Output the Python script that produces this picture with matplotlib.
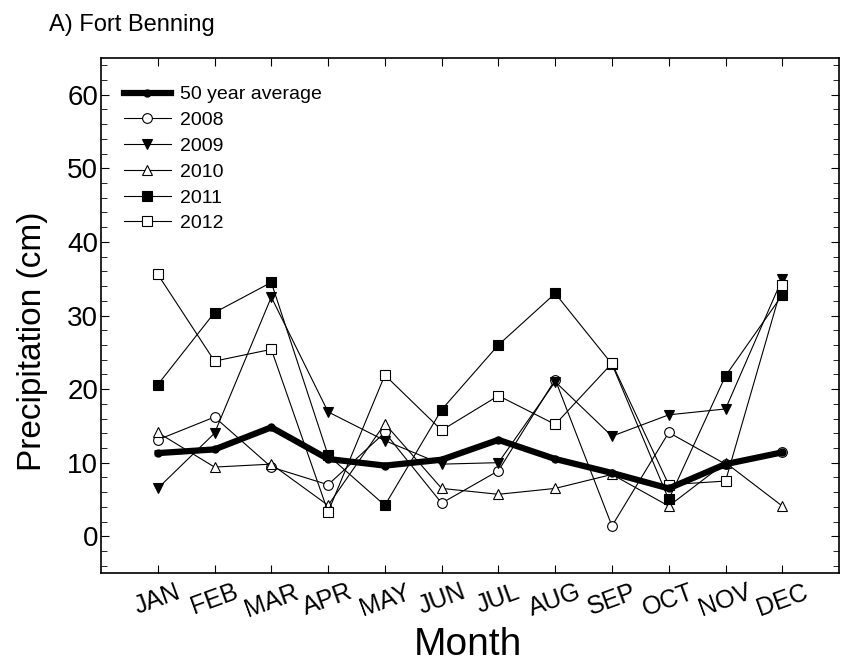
import numpy as np
import matplotlib.pyplot as plt
from matplotlib.ticker import MultipleLocator

plt.rcParams['font.family'] = ['Liberation Sans', 'DejaVu Sans']

# Monthly precipitation at Fort Benning (cm)
months = ['JAN', 'FEB', 'MAR', 'APR', 'MAY', 'JUN',
          'JUL', 'AUG', 'SEP', 'OCT', 'NOV', 'DEC']
avg_50yr = [11.3, 11.8, 14.8, 10.5, 9.6, 10.4, 13.1, 10.5, 8.6, 6.5, 9.8, 11.4]
p2008 = [13.1, 16.2, 9.4, 7.0, 14.1, 4.5, 8.9, 21.3, 1.4, 14.1, 9.8, 11.4]
p2009 = [6.5, 14.0, 32.5, 16.9, 13.0, 9.8, 10.0, 21.0, 13.6, 16.5, 17.3, 35.0]
p2010 = [14.1, 9.4, 9.8, 4.2, 15.3, 6.5, 5.7, 6.5, 8.4, 4.1, 10.0, 4.1]
p2011 = [20.6, 30.4, 34.5, 11.0, 4.2, 17.2, 26.0, 33.0, 23.4, 5.0, 21.8, 32.8]
p2012 = [35.6, 23.8, 25.4, 3.3, 21.9, 14.4, 19.1, 15.2, 23.5, 7.0, 7.5, 34.2]

x = np.arange(1, len(months) + 1)

fig = plt.figure(figsize=(8.45, 6.71), dpi=100)
ax = fig.add_axes([0.1195, 0.146, 0.8735, 0.7676])

ax.plot(x, avg_50yr, '-o', color='black', lw=4.5, ms=5, label='50 year average', zorder=3)
ax.plot(x, p2008, '-o', color='black', lw=0.8, ms=7, mfc='white', mew=0.8, label='2008')
ax.plot(x, p2009, '-v', color='black', lw=0.8, ms=7, mew=0.8, label='2009')
ax.plot(x, p2010, '-^', color='black', lw=0.8, ms=7, mfc='white', mew=0.8, label='2010')
ax.plot(x, p2011, '-s', color='black', lw=0.8, ms=6.5, mew=0.8, label='2011')
ax.plot(x, p2012, '-s', color='black', lw=0.8, ms=6.5, mfc='white', mew=0.8, label='2012')

ax.set_xlim(0, 13)
ax.set_ylim(-5, 65)
ax.set_xticks(x)
ax.set_xticklabels(months, rotation=20, ha='center', fontsize=18)
ax.yaxis.set_major_locator(MultipleLocator(10))
ax.yaxis.set_minor_locator(MultipleLocator(2))
ax.tick_params(axis='both', which='both', direction='in', top=True, right=True)
ax.tick_params(axis='y', which='major', length=6, labelsize=20, pad=2)
ax.tick_params(axis='y', which='minor', length=4)
ax.tick_params(axis='x', which='major', length=6, pad=5)
ax.tick_params(axis='x', which='minor', bottom=False, top=False)
for sp in ax.spines.values():
    sp.set_linewidth(1.2)

ax.set_xlabel('Month', fontsize=28)
ax.xaxis.set_label_coords(0.497, -0.105)
ax.set_ylabel('Precipitation (cm)', fontsize=24)
ax.yaxis.set_label_coords(-0.072, 0.45)
fig.text(0.058, 0.962, 'A) Fort Benning', fontsize=17, va='center', ha='left')

ax.legend(loc='upper left', bbox_to_anchor=(0.031, 0.946), frameon=False,
          fontsize=14, handlelength=2.4, labelspacing=0.42, borderpad=0,
          borderaxespad=0, handletextpad=0.5)

plt.savefig('out.png', dpi=100)
